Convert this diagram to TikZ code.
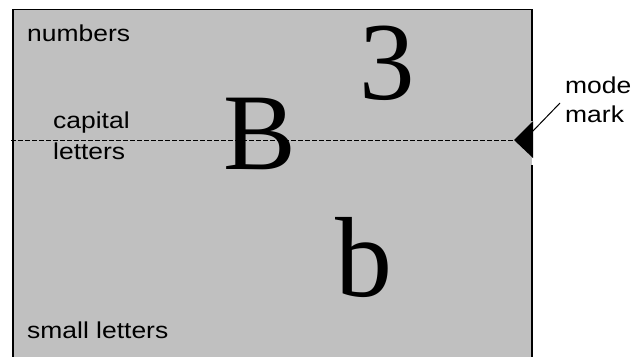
\documentclass[tikz,border=0pt]{standalone}
\usepackage{fontspec}
\setmainfont{Liberation Serif}
\newfontfamily\lblfont{Liberation Sans}
\definecolor{panelgray}{RGB}{192,192,192}
\tikzset{
  lbl/.style={inner sep=0pt, anchor=base west, font=\lblfont\fontsize{23}{25}\selectfont},
  bigglyph/.style={inner sep=0pt, anchor=base},
  edge/.style={line width=1.2pt, black},
}
\newcommand{\wide}[1]{\scalebox{1.15}[1]{#1}}
\begin{document}
\begin{tikzpicture}[x=1pt,y=-1pt]
\useasboundingbox (0,0) rectangle (636,356);
% panel
\fill[panelgray] (13,9.5) rectangle (532,357);
\draw[edge] (13,357) -- (13,9.5) -- (532,9.5) -- (532,121);
\draw[edge] (532,165) -- (532,357);
% dashed line
\coordinate (dl) at (11,140);
\coordinate (tip) at (514,140);
\draw[line width=0.9pt, dash pattern=on 4.5pt off 2.5pt] (dl) -- (tip);
% mode mark triangle
\coordinate (ttop) at (533,121);
\coordinate (tbot) at (533,158);
\fill[black] (tip) -- (ttop) -- (tbot) -- cycle;
\coordinate (tmid) at (532,132);
% big glyphs
\node[bigglyph, font=\fontsize{109}{110}\selectfont] (B) at (259.5,169) {B};
\node[bigglyph, font=\fontsize{111}{112}\selectfont] (three) at (387,99) {3};
\node[bigglyph, font=\fontsize{114}{115}\selectfont] (b) at (363.5,296) {b};
% labels
\node[lbl] (numbers) at (27,41.7) {\wide{numbers}};
\node[lbl] (capital) at (53,128) {\wide{capital}};
\node[lbl] (letters) at (53,159) {\wide{letters}};
\node[lbl] (small) at (27,338) {\wide{small letters}};
\node[lbl] (mode) at (565,93) {\wide{mode}};
\node[lbl] (mark) at (565,122) {\wide{mark}};
\coordinate (lead) at (560,103);
\draw[line width=1pt] (tmid) -- (lead);
\end{tikzpicture}
\end{document}
